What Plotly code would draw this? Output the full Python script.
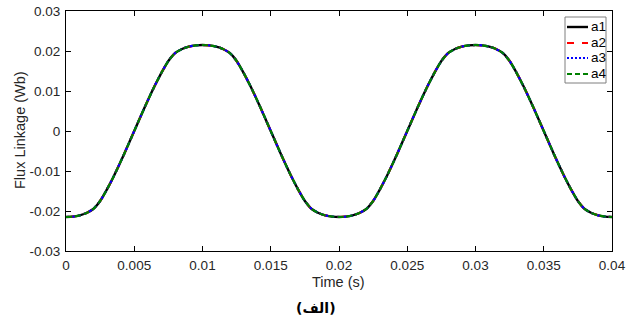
import plotly.graph_objects as go

time_s = [0.0000, 0.0005, 0.0010, 0.0015, 0.0020, 0.0025, 0.0030, 0.0035, 0.0040, 0.0045,
          0.0050, 0.0055, 0.0060, 0.0065, 0.0070, 0.0075, 0.0080, 0.0085, 0.0090, 0.0095,
          0.0100, 0.0105, 0.0110, 0.0115, 0.0120, 0.0125, 0.0130, 0.0135, 0.0140, 0.0145,
          0.0150, 0.0155, 0.0160, 0.0165, 0.0170, 0.0175, 0.0180, 0.0185, 0.0190, 0.0195,
          0.0200, 0.0205, 0.0210, 0.0215, 0.0220, 0.0225, 0.0230, 0.0235, 0.0240, 0.0245,
          0.0250, 0.0255, 0.0260, 0.0265, 0.0270, 0.0275, 0.0280, 0.0285, 0.0290, 0.0295,
          0.0300, 0.0305, 0.0310, 0.0315, 0.0320, 0.0325, 0.0330, 0.0335, 0.0340, 0.0345,
          0.0350, 0.0355, 0.0360, 0.0365, 0.0370, 0.0375, 0.0380, 0.0385, 0.0390, 0.0395,
          0.0400]

a1 = [-0.0215, -0.0214, -0.0211, -0.0205, -0.0195, -0.0175, -0.0146, -0.0113, -0.0077, -0.0039,
      0.0000, 0.0039, 0.0077, 0.0113, 0.0146, 0.0175, 0.0195, 0.0205, 0.0211, 0.0214,
      0.0215, 0.0214, 0.0211, 0.0205, 0.0195, 0.0175, 0.0146, 0.0113, 0.0077, 0.0039,
      0.0000, -0.0039, -0.0077, -0.0113, -0.0146, -0.0175, -0.0195, -0.0205, -0.0211, -0.0214,
      -0.0215, -0.0214, -0.0211, -0.0205, -0.0195, -0.0175, -0.0146, -0.0113, -0.0077, -0.0039,
      0.0000, 0.0039, 0.0077, 0.0113, 0.0146, 0.0175, 0.0195, 0.0205, 0.0211, 0.0214,
      0.0215, 0.0214, 0.0211, 0.0205, 0.0195, 0.0175, 0.0146, 0.0113, 0.0077, 0.0039,
      0.0000, -0.0039, -0.0077, -0.0113, -0.0146, -0.0175, -0.0195, -0.0205, -0.0211, -0.0214,
      -0.0215]
a2 = list(a1)
a3 = list(a1)
a4 = list(a1)

series_names = ["a1", "a2", "a3", "a4"]
x_ticks = [0, 0.005, 0.01, 0.015, 0.02, 0.025, 0.03, 0.035, 0.04]
x_labels = ["0", "0.005", "0.01", "0.015", "0.02", "0.025", "0.03", "0.035", "0.04"]
y_ticks = [-0.03, -0.02, -0.01, 0, 0.01, 0.02, 0.03]
y_labels = ["-0.03", "-0.02", "-0.01", "0", "0.01", "0.02", "0.03"]

FONT = "Liberation Sans, Arial, sans-serif"
TXT = "#262626"

fig = go.Figure()
# (values, colour, dash used on the curve, dash used for the legend sample, width)
styles = [
    (a1, "black", "solid", "solid", 2.4),
    (a2, "red", "dash", "7px,8px", 2.2),
    (a3, "blue", "dot", "2px,2px", 2.2),
    (a4, "green", "6px,3px", "5px,3px", 2.2),
]
for name, (vals, col, dash, ldash, w) in zip(series_names, styles):
    fig.add_trace(go.Scatter(x=time_s, y=vals, name=name, mode="lines", showlegend=False,
                             line=dict(color=col, dash=dash, width=w, shape="spline", smoothing=0.6)))

axis_common = dict(showline=True, linecolor="black", linewidth=1, mirror="ticks",
                   ticks="inside", ticklen=5, tickcolor="black", showgrid=False, zeroline=False,
                   automargin=False, ticklabelstandoff=2,
                   tickfont=dict(family=FONT, size=13.5, color=TXT))

W, H = 637, 320
ML, MR, MT, MB = 66, 25, 11, 69
PW, PH = W - ML - MR, H - MT - MB

fig.update_layout(
    width=W, height=H,
    margin=dict(l=ML, r=MR, t=MT, b=MB),
    paper_bgcolor="white", plot_bgcolor="white",
    showlegend=False,
    xaxis=dict(range=[0, 0.04], tickvals=x_ticks, ticktext=x_labels, **axis_common),
    yaxis=dict(range=[-0.03, 0.03], tickvals=y_ticks, ticktext=y_labels, **axis_common),
)

def px_x(px):
    return (px - ML) / PW

def px_y(py):
    return 1 - (py - MT) / PH

# axis titles
fig.add_annotation(text="Time (s)", xref="paper", yref="paper", x=px_x(338), y=px_y(282),
                   xanchor="center", yanchor="middle", showarrow=False,
                   font=dict(family=FONT, size=14.5, color=TXT))
fig.add_annotation(text="Flux Linkage (Wb)", xref="paper", yref="paper", x=px_x(20), y=px_y(130),
                   xanchor="center", yanchor="middle", showarrow=False, textangle=-90,
                   font=dict(family=FONT, size=14.5, color=TXT))
fig.add_annotation(text="<b>(الف)</b>", xref="paper", yref="paper", x=px_x(316), y=px_y(308),
                   xanchor="center", yanchor="middle", showarrow=False,
                   font=dict(family="DejaVu Sans, sans-serif", size=14, color="black"))

# legend box (drawn manually to match the compact reference legend)
fig.add_shape(type="rect", xref="paper", yref="paper",
              x0=px_x(565), x1=px_x(606), y0=px_y(17), y1=px_y(83),
              line=dict(color="#7f7f7f", width=1), fillcolor="white", layer="above")
rows_y = [27, 43, 58, 74]
for name, (vals, col, dash, ldash, w), ry in zip(series_names, styles, rows_y):
    fig.add_shape(type="line", xref="paper", yref="paper",
                  x0=px_x(567), x1=px_x(588), y0=px_y(ry), y1=px_y(ry),
                  line=dict(color=col, dash=ldash, width=w), layer="above")
    fig.add_annotation(text=name, xref="paper", yref="paper", x=px_x(589), y=px_y(ry),
                       xanchor="left", yanchor="middle", showarrow=False,
                       font=dict(family=FONT, size=13.5, color="black"))

fig.write_html("out.html", config={"displayModeBar": False})

# remove the default page margin so the figure sits at the window's top-left corner
with open("out.html", "r", encoding="utf-8") as f:
    html = f.read()
html = html.replace("<head>", "<head><style>html,body{margin:0;padding:0;overflow:hidden;}</style>", 1)
with open("out.html", "w", encoding="utf-8") as f:
    f.write(html)
